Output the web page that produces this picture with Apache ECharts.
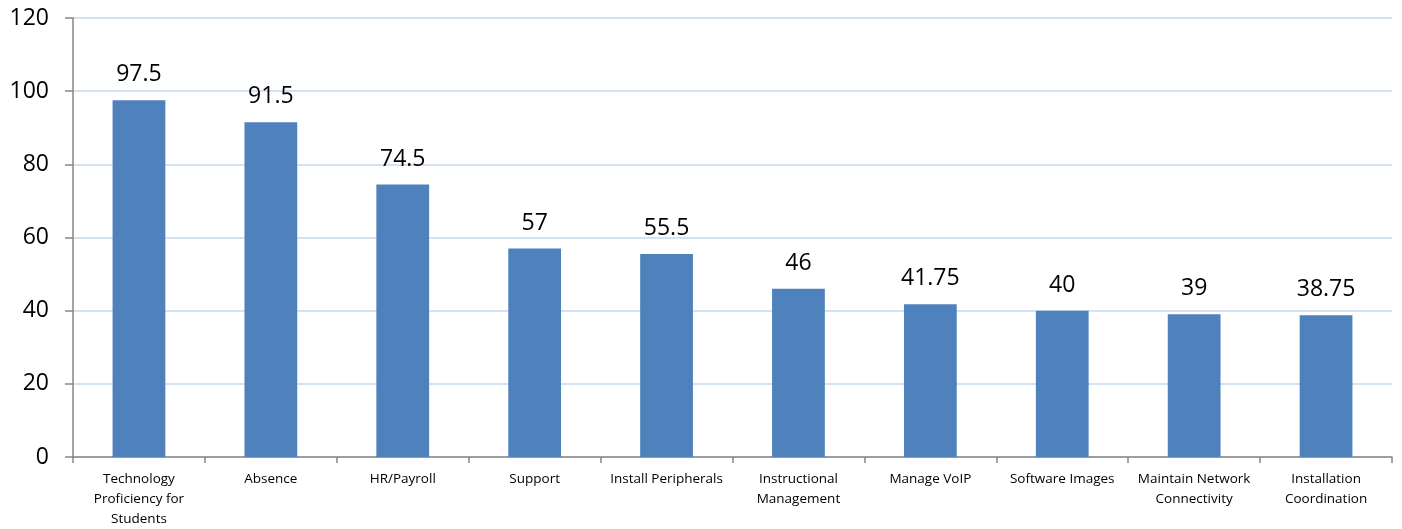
<!DOCTYPE html>
<html>
<head>
<meta charset="utf-8">
<script src="https://cdn.jsdelivr.net/npm/echarts@6/dist/echarts.min.js"></script>
<style>
html,body{margin:0;padding:0;background:#fff;}
#chart{width:1402px;height:529px;}
</style>
</head>
<body>
<div id="chart"></div>
<script>
const categories = [
  "Technology\nProficiency for\nStudents",
  "Absence",
  "HR/Payroll",
  "Support",
  "Install Peripherals",
  "Instructional\nManagement",
  "Manage VoIP",
  "Software Images",
  "Maintain Network\nConnectivity",
  "Installation\nCoordination"
];
const values = [97.5, 91.5, 74.5, 57, 55.5, 46, 41.75, 40, 39, 38.75];
const yTicks = { min: 0, max: 120, interval: 20 };

const chart = echarts.init(document.getElementById('chart'));
chart.setOption({
  animation: false,
  backgroundColor: '#ffffff',
  grid: { left: 73, right: 10, top: 18, bottom: 68, containLabel: false },
  xAxis: {
    type: 'category',
    data: categories,
    axisLine: { show: true, lineStyle: { color: '#868686', width: 1.5 } },
    axisTick: { show: true, length: 6, lineStyle: { color: '#868686', width: 1.5 } },
    axisLabel: {
      interval: 0,
      color: '#000',
      fontFamily: 'Open Sans',
      fontSize: 13.5,
      lineHeight: 20,
      margin: 12
    }
  },
  yAxis: {
    type: 'value',
    min: yTicks.min,
    max: yTicks.max,
    interval: yTicks.interval,
    axisLine: { show: true, lineStyle: { color: '#868686', width: 1.5 } },
    axisTick: { show: true, length: 8, inside: false, lineStyle: { color: '#868686', width: 1.5 } },
    axisLabel: { color: '#000', fontFamily: 'Open Sans', fontSize: 23, margin: 24 },
    splitLine: { show: true, lineStyle: { color: '#c6d9f1', width: 1.5 } }
  },
  series: [{
    type: 'bar',
    data: values,
    barWidth: '40%',
    itemStyle: { color: '#4f81bd' },
    label: {
      show: true,
      position: 'top',
      distance: 14,
      color: '#000',
      fontFamily: 'Open Sans',
      fontSize: 23
    }
  }]
});
</script>
</body>
</html>
